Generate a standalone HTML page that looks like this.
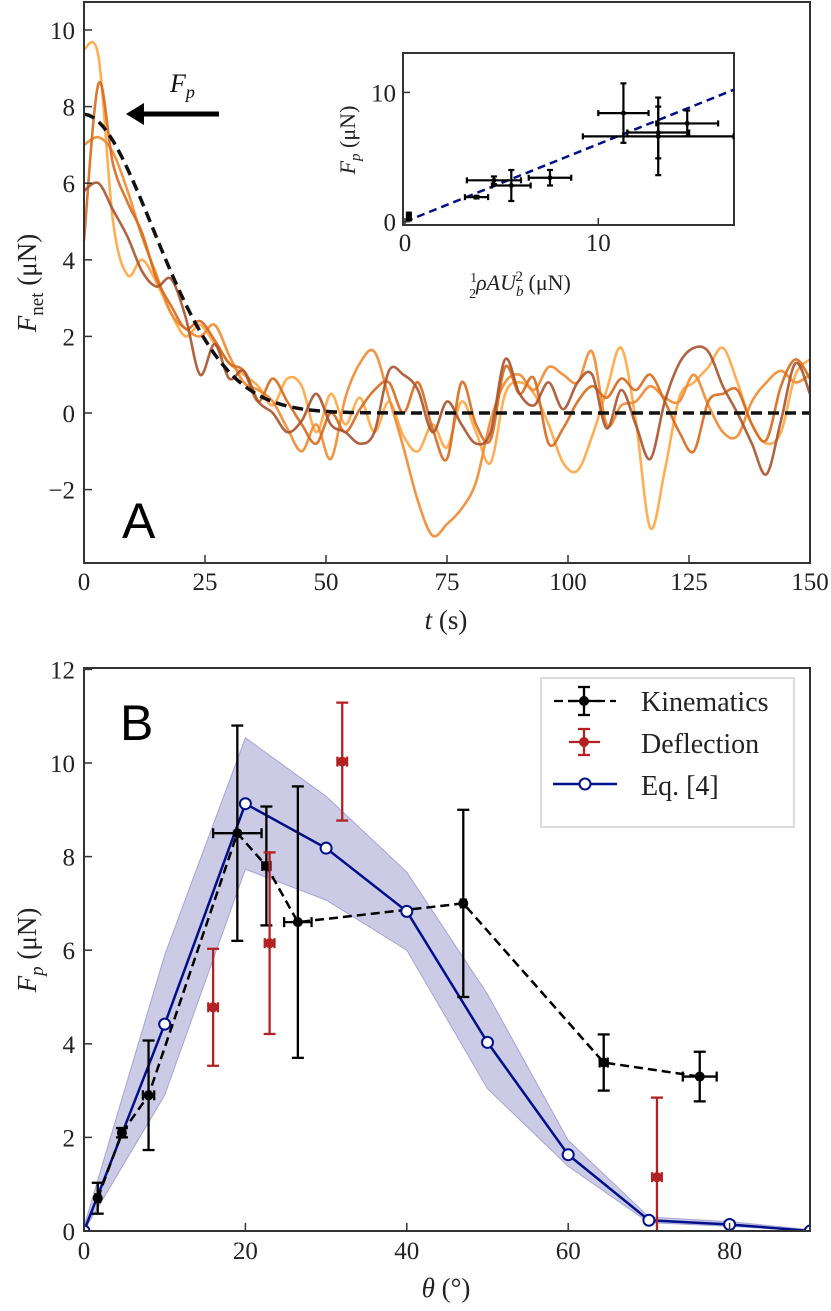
<!DOCTYPE html>
<html><head><meta charset="utf-8"><style>
body{margin:0;background:#fff;}
svg{display:block;font-family:"Liberation Serif",serif;}
</style></head><body>
<svg id="fig" width="831" height="1311" viewBox="0 0 831 1311" xmlns="http://www.w3.org/2000/svg">
<defs>
<clipPath id="clipA"><rect x="84" y="2" width="726" height="561"/></clipPath>
<clipPath id="clipI"><rect x="405" y="53" width="329" height="172"/></clipPath>
<clipPath id="clipB"><rect x="84" y="668" width="726" height="563"/></clipPath>
</defs>
<g id="panelA"></g>
<g id="inset"></g>
<g id="panelB"></g>
</svg>
<script>
// ---------- Panel A data ----------
const timesA = [0,3,6,9,12,15,18,21,24,27,30,33,36,39,42,45,48,51,54,57,60,63,66,69,72,75,78,81,84,87,90,93,96,99,102,105,108,111,114,117,120,123,126,129,132,135,138,141,144,147,150];
const traceLight = [9.5,9.3,5,3.6,4.0,3.4,2.6,2.0,2.3,1.8,1.3,1.0,0.7,0.2,0.9,0.7,-0.5,0.5,-0.3,0.4,-0.5,0.3,-0.6,-1.0,-0.3,-0.9,0.3,-0.5,-1.3,0.5,0.8,0.5,-0.3,-1.3,-1.5,-0.6,0.6,1.7,-0.2,-3.0,-1.5,0.4,0.8,1.2,1.7,0.8,-0.3,-0.8,-0.5,1.0,1.4];
const traceMedium = [7.0,7.2,6.8,5.8,4.6,3.6,2.6,2.2,2.0,2.3,1.5,0.8,0.6,0.3,-0.4,-1.0,-0.3,-1.2,0.4,1.3,1.6,0.4,-0.9,-2.3,-3.2,-2.9,-2.5,-1.8,-0.2,0.8,1.0,0.6,1.2,1.0,0.8,1.6,-0.3,0.2,0.3,0.7,0.4,0.3,1.0,0.2,-0.5,-0.6,0.3,0.8,1.1,0.8,1.0];
const traceDark = [4.5,8.6,6.5,5.5,4.7,3.5,2.8,2.2,2.4,1.9,1.3,1.1,0.3,0.9,0.3,-0.3,-0.8,0.0,-0.5,0.1,0.6,0.8,0.0,0.8,-0.4,-1.2,0.8,-0.3,-0.7,1.2,0.5,0.9,-0.8,-0.4,0.3,0.7,0.4,0.9,0.6,1.0,0.3,-0.5,-1.0,0.3,0.5,0.6,-0.3,-0.7,0.7,1.4,0.9];
const traceBrown = [5.8,6.0,5.3,4.6,3.7,3.3,3.5,2.5,1.0,1.8,0.9,1.1,0.3,0.0,-0.5,-0.2,0.5,-0.3,-0.5,-0.8,-0.5,1.1,1.0,0.6,-0.5,0.3,-0.3,-0.8,-0.5,1.4,0.5,0.2,0.8,0.1,0.8,1.0,-0.4,0.6,-0.3,-1.2,0.3,1.3,1.7,1.6,0.7,0.0,-0.8,-1.6,-0.2,1.3,0.5];
const fitParams = [7.8, 20.9, 1.9]; // amplitude, tau, exponent
const ticksAx = [0,25,50,75,100,125,150];
const ticksAy = [-2,0,2,4,6,8,10];

// ---------- Inset data ----------
const insetX = [0.2,3.7,4.6,5.5,7.5,11.3,13.1,13.1,14.6];
const insetY = [0.4,1.9,3.2,2.8,3.4,8.4,6.6,6.9,7.6];
const insetXerr = [0.1,0.6,1.4,1.0,1.1,1.3,3.9,1.6,1.6];
const insetYerr = [0.3,0.1,0.3,1.2,0.6,2.3,3.0,2.0,1.0];
const insetSlope = [0.6];
const insetTicks = [0,10];

// ---------- Panel B data ----------
const kinTheta = [1.7,4.7,8.0,19.0,22.6,26.5,47.0,64.4,76.3];
const kinF = [0.7,2.1,2.9,8.5,7.8,6.6,7.0,3.6,3.3];
const kinYerr = [0.33,0.1,1.17,2.3,1.27,2.9,2.0,0.6,0.53];
const kinXerr = [0.3,0.4,0.7,3.0,0.5,1.7,0.3,0.5,2.1];
const defTheta = [16.0,23.0,32.0,71.0];
const defF = [4.78,6.15,10.03,1.15];
const defYerr = [1.25,1.94,1.26,1.7];
const defXerr = [0.6,0.6,0.6,0.6];
const eqTheta = [0,10,20,30,40,50,60,70,80,90];
const eqF = [0,4.42,9.13,8.18,6.83,4.03,1.63,0.23,0.14,0];
const eqUpper = [0.1,5.9,10.54,9.29,7.67,5.06,1.94,0.3,0.2,0.03];
const eqLower = [0,2.9,7.73,7.07,6.0,3.04,1.38,0.18,0.1,0];
const ticksBx = [0,20,40,60,80];
const ticksBy = [0,2,4,6,8,10,12];

const NS = "http://www.w3.org/2000/svg";
function mk(parent, tag, attrs, txt){
  const e = document.createElementNS(NS, tag);
  for (const k in attrs) e.setAttribute(k, attrs[k]);
  if (txt !== undefined) e.textContent = txt;
  parent.appendChild(e);
  return e;
}
function smooth(pts){
  let d = "M"+pts[0][0]+","+pts[0][1];
  for (let i=0;i<pts.length-1;i++){
    const p0=pts[Math.max(0,i-1)], p1=pts[i], p2=pts[i+1], p3=pts[Math.min(pts.length-1,i+2)];
    const c1=[p1[0]+(p2[0]-p0[0])/6, p1[1]+(p2[1]-p0[1])/6];
    const c2=[p2[0]-(p3[0]-p1[0])/6, p2[1]-(p3[1]-p1[1])/6];
    d += " C"+c1[0]+","+c1[1]+" "+c2[0]+","+c2[1]+" "+p2[0]+","+p2[1];
  }
  return d;
}

// ===== Panel A =====
const A = document.getElementById('panelA');
const ax = t => 84 + (t-0)*(726/150);
const ay = v => 413 - v*38.3;
const gA = mk(A,'g',{'clip-path':'url(#clipA)'});
const traces = [[traceLight,'#ffa540','trace-light'],[traceMedium,'#f08a30','trace-medium'],[traceDark,'#d8691c','trace-dark'],[traceBrown,'#a9532c','trace-brown']];
traces.forEach(tr=>{
  const p = mk(gA,'path',{d:smooth(timesA.map((t,i)=>[ax(t),ay(tr[0][i])])),fill:'none',stroke:tr[1],'stroke-width':2.6,'stroke-opacity':0.9});
  
  
});
const fitPts=[];
for(let t=0;t<=150;t+=1){fitPts.push([ax(t),ay(fitParams[0]*Math.exp(-Math.pow(t/fitParams[1],fitParams[2])))]);}
const fit = mk(gA,'path',{d:"M"+fitPts.map(p=>p.join(',')).join(' L'),fill:'none',stroke:'#111','stroke-width':3.5,'stroke-dasharray':'11,6'});


mk(A,'rect',{x:84,y:2,width:726,height:561,fill:'none',stroke:'#333','stroke-width':2});
ticksAx.forEach(t=>{
  mk(A,'line',{x1:ax(t),x2:ax(t),y1:563,y2:555,stroke:'#333','stroke-width':1.5});
  const l = mk(A,'text',{x:ax(t),y:590,'font-size':25,'text-anchor':'middle',fill:'#222'},String(t));
  
  
});
ticksAy.forEach(v=>{
  mk(A,'line',{x1:84,x2:92,y1:ay(v),y2:ay(v),stroke:'#333','stroke-width':1.5});
  const l = mk(A,'text',{x:75,y:ay(v)+9,'font-size':25,'text-anchor':'end',fill:'#222'},v<0?'\u2212'+(-v):String(v));
  
  
});
</script>
<script>
// static labels panel A
(function(){
const A=document.getElementById('panelA');
A.insertAdjacentHTML('beforeend',
 '<text x="446" y="629" font-size="27" text-anchor="middle" fill="#222"><tspan font-style="italic">t</tspan> (s)</text>'+
 '<text transform="translate(36,283) rotate(-90)" font-size="27" text-anchor="middle" fill="#222"><tspan font-style="italic">F</tspan><tspan font-size="19" dy="7">net</tspan><tspan dy="-7"> (μN)</tspan></text>'+
 '<text x="122" y="538" font-size="50" font-family="Liberation Sans, sans-serif" fill="#000">A</text>'+
 '<text x="170" y="92" font-size="26" font-style="italic" fill="#111">F<tspan font-size="18" dy="6">p</tspan></text>'+
 '<g><line x1="219" y1="114" x2="140" y2="114" stroke="#000" stroke-width="5"/><polygon points="126,114 144,103 144,125" fill="#000"/></g>');
})();
// ===== Inset =====
const I=document.getElementById('inset');
const ix = v => 405 + v*19.33;
const iy = v => 221.7 - v*12.93;
mk(I,'rect',{x:403,y:53,width:331,height:172,fill:'#fff',stroke:'#333','stroke-width':2});
const gI=mk(I,'g',{'clip-path':'url(#clipI)'});
const fitLine = mk(gI,'line',{x1:ix(0),y1:iy(0),x2:ix(17.2),y2:iy(17.2*insetSlope[0]),stroke:'#00108a','stroke-width':2.5,'stroke-dasharray':'8,5'});


insetX.forEach((x,i)=>{
  const g=mk(gI,'g',{stroke:'#000','stroke-width':2.2});
  
  
  const y=insetY[i], xe=insetXerr[i], ye=insetYerr[i];
  mk(g,'line',{x1:ix(x-xe),x2:ix(x+xe),y1:iy(y),y2:iy(y)});
  mk(g,'line',{x1:ix(x),x2:ix(x),y1:iy(y-ye),y2:iy(y+ye)});
  mk(g,'line',{x1:ix(x-xe),x2:ix(x-xe),y1:iy(y)-3,y2:iy(y)+3});
  mk(g,'line',{x1:ix(x+xe),x2:ix(x+xe),y1:iy(y)-3,y2:iy(y)+3});
  mk(g,'line',{x1:ix(x)-3,x2:ix(x)+3,y1:iy(y-ye),y2:iy(y-ye)});
  mk(g,'line',{x1:ix(x)-3,x2:ix(x)+3,y1:iy(y+ye),y2:iy(y+ye)});
  mk(g,'circle',{cx:ix(x),cy:iy(y),r:2.5,fill:'#000',stroke:'none'});
});
insetTicks.forEach(v=>{
  mk(I,'line',{x1:ix(v),x2:ix(v),y1:225,y2:218,stroke:'#333','stroke-width':1.5});
  mk(I,'line',{x1:403,x2:410,y1:iy(v),y2:iy(v),stroke:'#333','stroke-width':1.5});
  const a=mk(I,'text',{x:ix(v),y:251,'font-size':25,'text-anchor':'middle',fill:'#222'},String(v));
  
  
  const b=mk(I,'text',{x:396,y:iy(v)+9,'font-size':25,'text-anchor':'end',fill:'#222'},String(v));
  
  
});
I.insertAdjacentHTML('beforeend',
 '<text x="520" y="290" font-size="22" text-anchor="middle" fill="#222"><tspan font-size="14" dy="-8">1</tspan><tspan font-size="14" dx="-8" dy="16">2</tspan><tspan dy="-8" font-style="italic">ρAU</tspan><tspan font-size="15" font-style="italic" dy="6">b</tspan><tspan font-size="15" dy="-15" dx="-8">2</tspan><tspan dy="9"> (μN)</tspan></text>'+
 '<text transform="translate(355,140) rotate(-90)" font-size="22" text-anchor="middle" fill="#222"><tspan font-style="italic">F</tspan><tspan font-size="15" font-style="italic" dy="5">p</tspan><tspan dy="-5"> (μN)</tspan></text>');

// ===== Panel B =====
const B=document.getElementById('panelB');
const bx = v => 84 + v*8.07;
const by = v => 1231 - v*46.8;
const gB=mk(B,'g',{'clip-path':'url(#clipB)'});
const bandPts = eqTheta.map((t,i)=>bx(t)+','+by(eqUpper[i])).concat(eqTheta.slice().reverse().map((t,j)=>{const i=eqTheta.length-1-j;return bx(t)+','+by(eqLower[i]);}));
const band=mk(gB,'polygon',{points:bandPts.join(' '),fill:'#8c8cc8','fill-opacity':0.45,stroke:'#6a6ac0','stroke-opacity':0.5,'stroke-width':1});


const eqLine=mk(gB,'polyline',{points:eqTheta.map((t,i)=>bx(t)+','+by(eqF[i])).join(' '),fill:'none',stroke:'#00108a','stroke-width':2.5});


const kinLine=mk(gB,'polyline',{points:kinTheta.map((t,i)=>bx(t)+','+by(kinF[i])).join(' '),fill:'none',stroke:'#000','stroke-width':2.5,'stroke-dasharray':'9,5'});


function errPoint(parent,x,y,xe,ye,col,nm){
  const g=mk(parent,'g',{stroke:col,'stroke-width':2.3});
  
  
  mk(g,'line',{x1:bx(x-xe),x2:bx(x+xe),y1:by(y),y2:by(y)});
  mk(g,'line',{x1:bx(x),x2:bx(x),y1:by(y-ye),y2:by(y+ye)});
  mk(g,'line',{x1:bx(x-xe),x2:bx(x-xe),y1:by(y)-5,y2:by(y)+5});
  mk(g,'line',{x1:bx(x+xe),x2:bx(x+xe),y1:by(y)-5,y2:by(y)+5});
  mk(g,'line',{x1:bx(x)-6,x2:bx(x)+6,y1:by(y-ye),y2:by(y-ye)});
  mk(g,'line',{x1:bx(x)-6,x2:bx(x)+6,y1:by(y+ye),y2:by(y+ye)});
  mk(g,'circle',{cx:bx(x),cy:by(y),r:5,fill:col,stroke:'none'});
}
kinTheta.forEach((t,i)=>errPoint(gB,t,kinF[i],kinXerr[i],kinYerr[i],'#000','kinematics-point'));
defTheta.forEach((t,i)=>errPoint(gB,t,defF[i],defXerr[i],defYerr[i],'#b22222','deflection-point'));
eqTheta.forEach((t,i)=>{
  const c=mk(gB,'circle',{cx:bx(t),cy:by(eqF[i]),r:5.5,fill:'#fff',stroke:'#00108a','stroke-width':2});
  
  
});
mk(B,'rect',{x:84,y:668,width:726,height:563,fill:'none',stroke:'#333','stroke-width':2});
ticksBx.forEach(t=>{
  mk(B,'line',{x1:bx(t),x2:bx(t),y1:1231,y2:1223,stroke:'#333','stroke-width':1.5});
  const l=mk(B,'text',{x:bx(t),y:1259,'font-size':25,'text-anchor':'middle',fill:'#222'},String(t));
  
  
});
ticksBy.forEach(v=>{
  mk(B,'line',{x1:84,x2:92,y1:by(v),y2:by(v),stroke:'#333','stroke-width':1.5});
  const l=mk(B,'text',{x:75,y:by(v)+9,'font-size':25,'text-anchor':'end',fill:'#222'},String(v));
  
  
});
B.insertAdjacentHTML('beforeend',
 '<text x="446" y="1297" font-size="27" text-anchor="middle" fill="#222"><tspan font-style="italic">θ</tspan> (°)</text>'+
 '<text transform="translate(36,950) rotate(-90)" font-size="27" text-anchor="middle" fill="#222"><tspan font-style="italic">F</tspan><tspan font-size="19" font-style="italic" dy="7">p</tspan><tspan dy="-7"> (μN)</tspan></text>'+
 '<text x="120" y="740" font-size="50" font-family="Liberation Sans, sans-serif" fill="#000">B</text>'+
 '<g>'+
 '<rect x="541" y="678" width="253" height="149" fill="#fff" fill-opacity="0.85" stroke="#d0d0d0" stroke-width="1.5"/>'+
 '<g><line x1="554" y1="701" x2="616" y2="701" stroke="#000" stroke-width="2.3" stroke-dasharray="9,5"/><line x1="568" y1="701" x2="600" y2="701" stroke="#000" stroke-width="2.3"/><line x1="584" y1="687" x2="584" y2="715" stroke="#000" stroke-width="2.3"/><line x1="578" y1="687" x2="590" y2="687" stroke="#000" stroke-width="2.3"/><line x1="578" y1="715" x2="590" y2="715" stroke="#000" stroke-width="2.3"/><circle cx="584" cy="701" r="5" fill="#000"/><text x="641" y="711" font-size="28" fill="#222">Kinematics</text></g>'+
 '<g><line x1="569" y1="742" x2="600" y2="742" stroke="#b22222" stroke-width="2.3"/><line x1="584" y1="729" x2="584" y2="755" stroke="#b22222" stroke-width="2.3"/><line x1="578" y1="729" x2="590" y2="729" stroke="#b22222" stroke-width="2.3"/><line x1="578" y1="755" x2="590" y2="755" stroke="#b22222" stroke-width="2.3"/><circle cx="584" cy="742" r="5" fill="#b22222"/><text x="641" y="753" font-size="28" fill="#222">Deflection</text></g>'+
 '<g><line x1="553" y1="784" x2="617" y2="784" stroke="#00108a" stroke-width="2.5"/><circle cx="585" cy="784" r="5.5" fill="#fff" stroke="#00108a" stroke-width="2"/><text x="641" y="795" font-size="28" fill="#222">Eq. [4]</text></g>'+
 '</g>');
</script>
</body></html>
